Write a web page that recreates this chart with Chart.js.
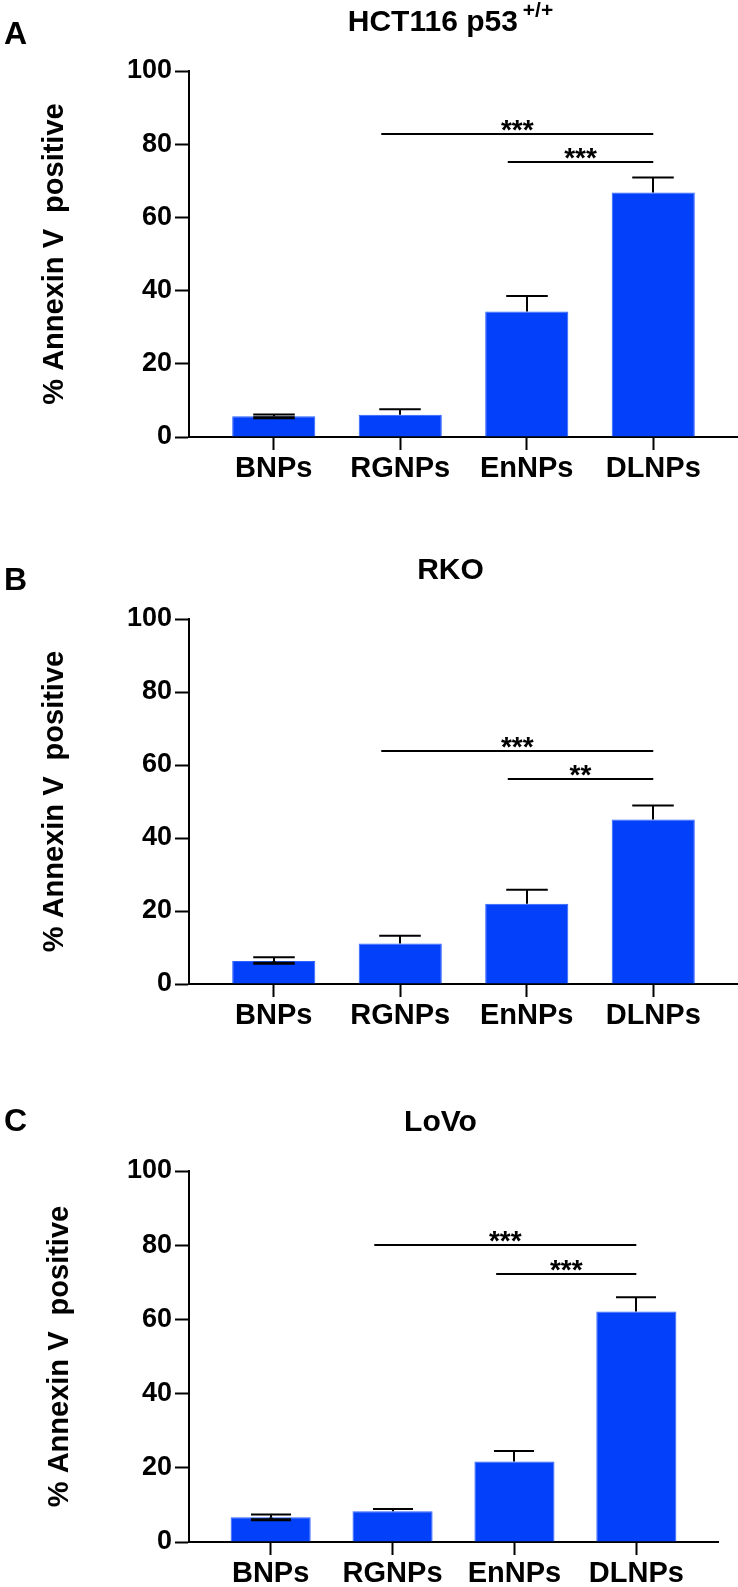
<!DOCTYPE html>
<html><head><meta charset="utf-8">
<script src="https://cdn.jsdelivr.net/npm/chart.js@4.4.1/dist/chart.umd.min.js"></script>
<style>
html,body{margin:0;padding:0;background:#fff;}
body{width:738px;height:1587px;position:relative;overflow:hidden;}
canvas{position:absolute;left:0;}
</style></head><body>
<canvas id="cA" width="738" height="520" style="top:0px"></canvas>
<canvas id="cB" width="738" height="560" style="top:500px"></canvas>
<canvas id="cC" width="738" height="547" style="top:1040px"></canvas>
<script>
// ---- data ----
const categories = ['BNPs', 'RGNPs', 'EnNPs', 'DLNPs'];
const yTicks = [0, 20, 40, 60, 80, 100];
const yAxisTitle = '% Annexin V  positive';
const panelLetters = ['A', 'B', 'C'];
const panelTitles = ['HCT116 p53', 'RKO', 'LoVo'];
const panelTitleSup = ['+/+', '', ''];

const meanA = [5.7, 6.1, 34.3, 66.8];
const semA  = [0.45, 1.5, 4.2, 4.1];
const lowA  = [0.45, null, null, null];
const sigFromA = [1, 2];
const sigToA   = [3, 3];
const sigYA    = [82.8, 75.1];
const sigLabelA = ['***', '***'];

const meanB = [6.3, 11.1, 22.0, 45.1];
const semB  = [1.0, 2.1, 3.8, 3.8];
const lowB  = [0.6, null, null, null];
const sigFromB = [1, 2];
const sigToB   = [3, 3];
const sigYB    = [63.9, 56.2];
const sigLabelB = ['***', '**'];

const meanC = [6.7, 8.3, 21.7, 62.1];
const semC  = [0.7, 0.6, 2.8, 3.9];
const lowC  = [0.7, null, null, null];
const sigFromC = [1, 2];
const sigToC   = [3, 3];
const sigYC    = [80.0, 72.2];
const sigLabelC = ['***', '***'];

// ---- layout / style ----
const FONT = "'Liberation Sans', Arial, Helvetica, sans-serif";
Chart.defaults.font.family = FONT;
Chart.defaults.color = '#000';
const BAR_COLOR = '#0340FA';

const panels = [
  {canvas:'cA', top:0,    h:520, plotTop:71,   plotBottom:437,  plotRight:738, letterBase:44,   titlePad:38,
   mean:meanA, sem:semA, low:lowA, sigFrom:sigFromA, sigTo:sigToA, sigY:sigYA, sigLabel:sigLabelA},
  {canvas:'cB', top:500,  h:560, plotTop:619,  plotBottom:984,  plotRight:738, letterBase:590,  titlePad:38,
   mean:meanB, sem:semB, low:lowB, sigFrom:sigFromB, sigTo:sigToB, sigY:sigYB, sigLabel:sigLabelB},
  {canvas:'cC', top:1040, h:547, plotTop:1171, plotBottom:1542, plotRight:718, letterBase:1131, titlePad:43,
   mean:meanC, sem:semC, low:lowC, sigFrom:sigFromC, sigTo:sigToC, sigY:sigYC, sigLabel:sigLabelC}
];
const X_AXIS_H = 44;

const annot = {
  id: 'annot',
  afterDatasetsDraw(chart, args, o) {
    const ctx = chart.ctx, xs = chart.scales.x, ys = chart.scales.y;
    const meta = chart.getDatasetMeta(0);
    ctx.save();
    ctx.strokeStyle = '#000';
    ctx.lineCap = 'butt';
    o.mean.forEach((m, i) => {
      const bar = meta.data[i];
      const x = Math.round(bar.x), hw = bar.width / 4;
      const yTop = ys.getPixelForValue(m + o.sem[i]);
      const yM = ys.getPixelForValue(m);
      ctx.lineWidth = 2;
      ctx.beginPath();
      ctx.moveTo(x, yM); ctx.lineTo(x, yTop);
      ctx.moveTo(x - hw, yTop); ctx.lineTo(x + hw, yTop);
      ctx.stroke();
      if (o.low[i] != null) {
        const yL = ys.getPixelForValue(m - o.low[i]);
        ctx.lineWidth = 3;
        ctx.beginPath();
        ctx.moveTo(x, yM); ctx.lineTo(x, yL);
        ctx.moveTo(x - hw, yL); ctx.lineTo(x + hw, yL);
        ctx.stroke();
      }
    });
    // significance brackets
    ctx.lineWidth = 2;
    ctx.fillStyle = '#000';
    ctx.font = 'bold 28px ' + FONT;
    ctx.textAlign = 'center';
    ctx.textBaseline = 'alphabetic';
    o.sigFrom.forEach((f, k) => {
      const x1 = xs.getPixelForValue(f - 0.15);
      const x2 = xs.getPixelForValue(o.sigTo[k]);
      const y = Math.round(ys.getPixelForValue(o.sigY[k]));
      ctx.beginPath(); ctx.moveTo(x1, y); ctx.lineTo(x2, y); ctx.stroke();
      ctx.fillText(o.sigLabel[k], (x1 + x2) / 2, y + 5);
    });
    ctx.restore();
  },
  afterDraw(chart, args, o) {
    const ctx = chart.ctx, ca = chart.chartArea;
    ctx.save();
    ctx.fillStyle = '#000';
    ctx.textBaseline = 'alphabetic';
    // panel letter
    ctx.font = 'bold 32px ' + FONT;
    ctx.textAlign = 'left';
    ctx.fillText(o.letter, 4, o.letterY);
    // title with optional superscript
    ctx.font = 'bold 30px ' + FONT;
    const w1 = ctx.measureText(o.title).width;
    ctx.font = 'bold 21px ' + FONT;
    const w2 = o.sup ? ctx.measureText(o.sup).width + 5 : 0;
    const cx = (ca.left + ca.right) / 2 - 13;
    const x0 = cx - (w1 + w2) / 2;
    const yb = ca.top - 40;
    ctx.font = 'bold 30px ' + FONT;
    ctx.fillText(o.title, x0, yb);
    if (o.sup) {
      ctx.font = 'bold 21px ' + FONT;
      ctx.fillText(o.sup, x0 + w1 + 5, yb - 14);
    }
    ctx.restore();
  }
};

panels.forEach((p, pi) => {
  const padTop = p.plotTop - p.top;
  const padBottom = p.h - (p.plotBottom - p.top) - X_AXIS_H;
  new Chart(document.getElementById(p.canvas), {
    type: 'bar',
    data: {
      datasets: [{
        data: p.mean.map((v, i) => ({x: i, y: v})),
        backgroundColor: BAR_COLOR,
        borderColor: '#2d60ff',
        borderWidth: 1,
        barPercentage: 0.657,
        categoryPercentage: 1
      }]
    },
    plugins: [annot],
    options: {
      responsive: false,
      animation: false,
      devicePixelRatio: 1,
      layout: {padding: {top: padTop, bottom: padBottom, left: 0, right: 738 - p.plotRight}},
      plugins: {
        legend: {display: false},
        tooltip: {enabled: false},
        annot: {
          mean: p.mean, sem: p.sem, low: p.low,
          sigFrom: p.sigFrom, sigTo: p.sigTo, sigY: p.sigY, sigLabel: p.sigLabel,
          letter: panelLetters[pi], letterY: p.letterBase - p.top,
          title: panelTitles[pi], sup: panelTitleSup[pi]
        }
      },
      scales: {
        x: {
          type: 'linear',
          offset: false,
          min: -0.67, max: 3.67,
          afterBuildTicks: s => { s.ticks = categories.map((c, i) => ({value: i})); },
          afterFit: s => { s.height = X_AXIS_H; },
          ticks: {
            autoSkip: false, maxRotation: 0, minRotation: 0,
            callback: (v, i) => categories[i],
            color: '#000',
            font: {size: 29, weight: 'bold'},
            padding: 2
          },
          grid: {offset: false, drawOnChartArea: false, drawTicks: true, tickLength: 13, tickWidth: 2, tickColor: '#000'},
          border: {display: true, color: '#000', width: 2}
        },
        y: {
          min: 0, max: 100,
          afterBuildTicks: s => { s.ticks = yTicks.map(v => ({value: v})); },
          afterFit: s => { s.width = 189; },
          ticks: {color: '#000', font: {size: 27, weight: 'bold'}, padding: 3},
          grid: {drawOnChartArea: false, drawTicks: true, tickLength: 14, tickWidth: 2, tickColor: '#000'},
          border: {display: true, color: '#000', width: 2},
          title: {display: true, text: yAxisTitle, color: '#000',
                  font: {size: 29, weight: 'bold'}, padding: {top: p.titlePad, bottom: 0}}
        }
      }
    }
  });
});
</script>
</body></html>
